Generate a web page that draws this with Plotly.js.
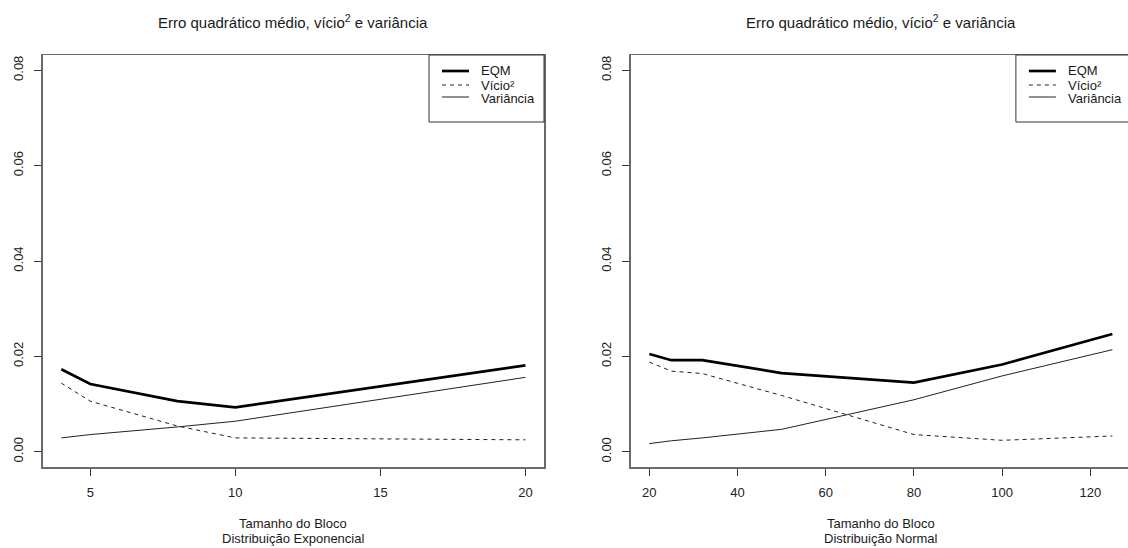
<!DOCTYPE html>
<html>
<head>
<meta charset="utf-8">
<script src="https://cdn.plot.ly/plotly-3.0.1.min.js"></script>
<style>
html,body{margin:0;padding:0;overflow:hidden;background:#fff;width:1128px;height:548px;}
#chart{width:1140px;height:548px;}
</style>
</head>
<body>
<div id="chart"></div>
<script>
// ---- data ----
const xExp = [4, 5, 8, 10, 20];
const eqmExp = [0.0173, 0.0142, 0.0106, 0.0093, 0.0181];
const vicioExp = [0.0144, 0.0106, 0.0054, 0.0029, 0.0025];
const varExp = [0.0029, 0.0036, 0.0052, 0.0064, 0.0156];

const xNorm = [20, 25, 32, 50, 80, 100, 125];
const eqmNorm = [0.0205, 0.0192, 0.0192, 0.0165, 0.0145, 0.0183, 0.0247];
const vicioNorm = [0.0188, 0.0169, 0.0164, 0.0118, 0.0036, 0.0024, 0.0033];
const varNorm = [0.0017, 0.0023, 0.0029, 0.0047, 0.0109, 0.0159, 0.0214];

const yTickVals = [0, 0.02, 0.04, 0.06, 0.08];
const yTickText = ['0.00', '0.02', '0.04', '0.06', '0.08'];
const xTickExp = [5, 10, 15, 20];
const xTickNorm = [20, 40, 60, 80, 100, 120];
const legendLabels = ['EQM', 'Vício²', 'Variância'];
const mainTitle = 'Erro quadrático médio, vício<sup>2</sup> e variância';
const xTitleLine1 = 'Tamanho do Bloco';
const xSubExp = 'Distribuição Exponencial';
const xSubNorm = 'Distribuição Normal';

// ---- layout helpers (pixels -> paper) ----
const W = 1140, H = 548;
const X = p => p / W;
const Y = p => 1 - p / H;
const FONT = 'Liberation Sans, Arial, sans-serif';

const plotTop = 55, plotBot = 467;
const p1 = [42.7, 544], p2 = [630.8, 1130.9];

const eqmStyle = {color: '#000', width: 2.7};
const vicioStyle = {color: '#222', width: 1, dash: '4px,4px'};
const varStyle = {color: '#222', width: 1};

function tr(x, y, style, xa, ya) {
  return {x: x, y: y, type: 'scatter', mode: 'lines', line: style,
          xaxis: xa, yaxis: ya, showlegend: false, hoverinfo: 'skip'};
}
const data = [
  tr(xExp, eqmExp, eqmStyle, 'x', 'y'),
  tr(xExp, vicioExp, vicioStyle, 'x', 'y'),
  tr(xExp, varExp, varStyle, 'x', 'y'),
  tr(xNorm, eqmNorm, eqmStyle, 'x2', 'y2'),
  tr(xNorm, vicioNorm, vicioStyle, 'x2', 'y2'),
  tr(xNorm, varNorm, varStyle, 'x2', 'y2')
];

const axisCommon = {
  showline: true, mirror: true, linecolor: '#6a6a6a', linewidth: 1.5,
  ticks: 'outside', ticklen: 7, tickcolor: '#333', tickwidth: 1,
  showgrid: false, zeroline: false, fixedrange: true,
  tickfont: {family: FONT, size: 13, color: '#222'}, ticklabelstandoff: 6
};
function xa(dom, range, tv) {
  return Object.assign({}, axisCommon, {domain: [X(dom[0]), X(dom[1])], range: range,
    tickmode: 'array', tickvals: tv, ticktext: tv.map(String)});
}
function ya(anchor) {
  return Object.assign({}, axisCommon, {domain: [Y(plotBot), Y(plotTop)], range: [-0.0032, 0.0832],
    tickmode: 'array', tickvals: yTickVals, ticktext: yTickText, tickangle: -90, anchor: anchor});
}

const shapes = [], annotations = [];
function txt(t, x, y, anchor, size) {
  annotations.push({text: t, xref: 'paper', yref: 'paper', x: X(x), y: Y(y),
    xanchor: anchor, yanchor: 'middle', showarrow: false,
    font: {family: FONT, size: size, color: '#1a1a1a'}});
}
function addPanel(dom, sub) {
  const cx = (dom[0] + dom[1]) / 2;
  txt(mainTitle, cx, 21, 'center', 15);
  txt(xTitleLine1, cx, 523, 'center', 13);
  txt(sub, cx, 538, 'center', 13);
  // legend box
  const bx0 = dom[1] - 115, bx1 = dom[1];
  shapes.push({type: 'rect', xref: 'paper', yref: 'paper', x0: X(bx0), x1: X(bx1),
    y0: Y(122), y1: Y(plotTop), line: {color: '#333', width: 1}, fillcolor: 'rgba(0,0,0,0)'});
  const rows = [71, 85, 97];
  const textRows = [71, 86, 98.5];
  const styles = [eqmStyle, vicioStyle, varStyle];
  rows.forEach((ry, i) => {
    shapes.push({type: 'line', xref: 'paper', yref: 'paper', x0: X(bx0 + 13), x1: X(bx0 + 40),
      y0: Y(ry), y1: Y(ry), line: styles[i]});
    txt(legendLabels[i], bx0 + 50, textRows[i], 'left', 13);
  });
}
addPanel(p1, xSubExp);
addPanel(p2, xSubNorm);

const layout = {
  width: W, height: H, margin: {l: 0, r: 0, t: 0, b: 0},
  paper_bgcolor: '#fff', plot_bgcolor: '#fff', showlegend: false,
  xaxis: xa(p1, [3.36, 20.64], xTickExp),
  yaxis: ya('x'),
  xaxis2: xa(p2, [15.8, 129.2], xTickNorm),
  yaxis2: ya('x2'),
  shapes: shapes, annotations: annotations
};
layout.xaxis.anchor = 'y';
layout.xaxis2.anchor = 'y2';

Plotly.newPlot('chart', data, layout, {staticPlot: true, displayModeBar: false});
</script>
</body>
</html>
